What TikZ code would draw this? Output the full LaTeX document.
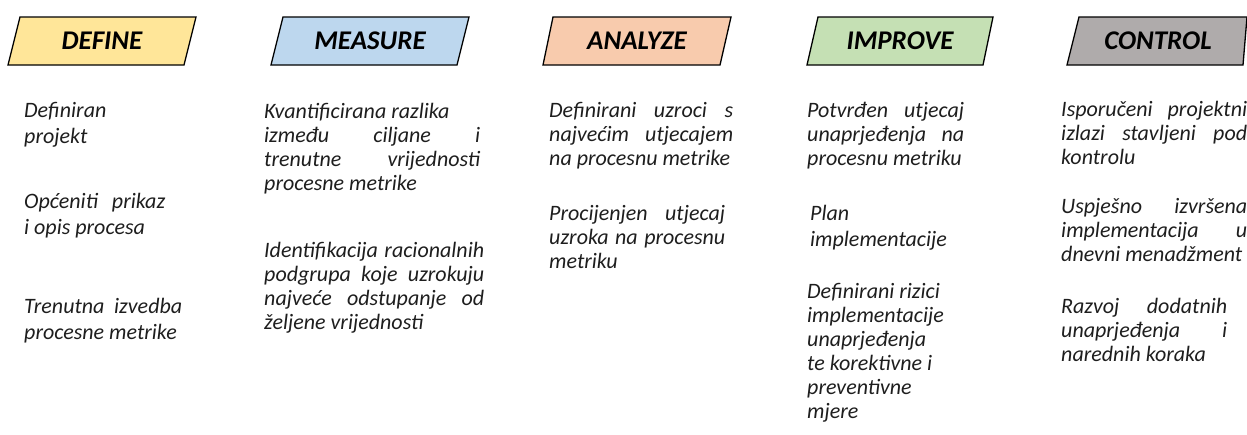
\documentclass[tikz,border=0pt]{standalone}
\usepackage{fontspec}
\setmainfont{Carlito}
\usepackage{xcolor}
\definecolor{defineyellow}{HTML}{FFE699}
\definecolor{measureblue}{HTML}{BDD7EE}
\definecolor{analyzeorange}{HTML}{F8CBAD}
\definecolor{improvegreen}{HTML}{C5E0B4}
\definecolor{controlgray}{HTML}{AFABAB}
\definecolor{textgray}{HTML}{1E1E1E}
\hyphenpenalty=10000
\tolerance=9999

\tikzset{
  phasebox/.style={line width=1.3pt, line join=miter},
  phase/.style={inner sep=0pt, font=\fontsize{27}{32}\selectfont\bfseries\itshape},
  outcome/.style={anchor=base west, inner sep=0pt, align=justify, text=textgray,
    font=\fontsize{22}{24}\selectfont\itshape},
  loose/.style={font=\fontsize{22}{26.5}\selectfont\itshape}
}

\begin{document}
\begin{tikzpicture}[x=1pt,y=-1pt]
\useasboundingbox (0,0) rectangle (1247,434);

% phase headers
\draw[phasebox, fill=defineyellow] (8,65) -- (20,17) -- (196,17) -- (184,65) -- cycle;
\node[phase] (define) at (102,41) {DEFINE};
\draw[phasebox, fill=measureblue] (271,65) -- (283,17) -- (469,17) -- (457,65) -- cycle;
\node[phase] (measure) at (370,41) {MEASURE};
\draw[phasebox, fill=analyzeorange] (543,65) -- (553,17) -- (731,17) -- (720,65) -- cycle;
\node[phase] (analyze) at (637,41) {ANALYZE};
\draw[phasebox, fill=improvegreen] (807,65) -- (818,17) -- (993,17) -- (983,65) -- cycle;
\node[phase] (improve) at (900,41) {IMPROVE};
\draw[phasebox, fill=controlgray] (1067,65) -- (1079,17) -- (1247,17) -- (1243,65) -- cycle;
\node[phase] (control) at (1158,41) {CONTROL};

% define
\node[outcome, loose, text width=158pt] (def1) at (24,117) {Definiran\\projekt};
\node[outcome, loose, text width=141pt] (def2) at (24,208) {Općeniti prikaz\linebreak i opis procesa};
\node[outcome, loose, text width=158pt] (def3) at (24,313) {Trenutna izvedba\linebreak procesne metrike};

% measure
\node[outcome, text width=216pt] (mea1) at (264,118) {Kvantificirana razlika\\ između ciljane i\linebreak trenutne vrijednosti\linebreak procesne metrike};
\node[outcome, text width=220pt] (mea2) at (264,257) {Identifikacija racionalnih\linebreak podgrupa koje uzrokuju\linebreak najveće odstupanje od\linebreak željene vrijednosti};

% analyze
\node[outcome, text width=184pt] (ana1) at (549,117) {Definirani uzroci s\linebreak najvećim utjecajem\linebreak na procesnu metrike};
\node[outcome, text width=176pt] (ana2) at (549,220) {Procijenjen utjecaj\linebreak uzroka na procesnu\linebreak metriku};

% improve
\node[outcome, text width=157pt] (imp1) at (807,117) {Potvrđen utjecaj\linebreak unaprjeđenja na\linebreak procesnu metriku};
\node[outcome, loose, text width=157pt] (imp2) at (810,220) {Plan\\implementacije};
\node[outcome, text width=157pt] (imp3) at (807,298) {Definirani rizici\\implementacije\\unaprjeđenja\\te korektivne i\\preventivne\\mjere};

% control
\node[outcome, text width=186pt] (con1) at (1061,116) {Isporučeni projektni\linebreak izlazi stavljeni pod\linebreak kontrolu};
\node[outcome, text width=186pt] (con2) at (1061,213) {Uspješno izvršena\linebreak implementacija u\linebreak dnevni menadžment};
\node[outcome, text width=166pt] (con3) at (1061,313) {Razvoj dodatnih\linebreak unaprjeđenja i\linebreak narednih koraka};
\end{tikzpicture}
\end{document}
